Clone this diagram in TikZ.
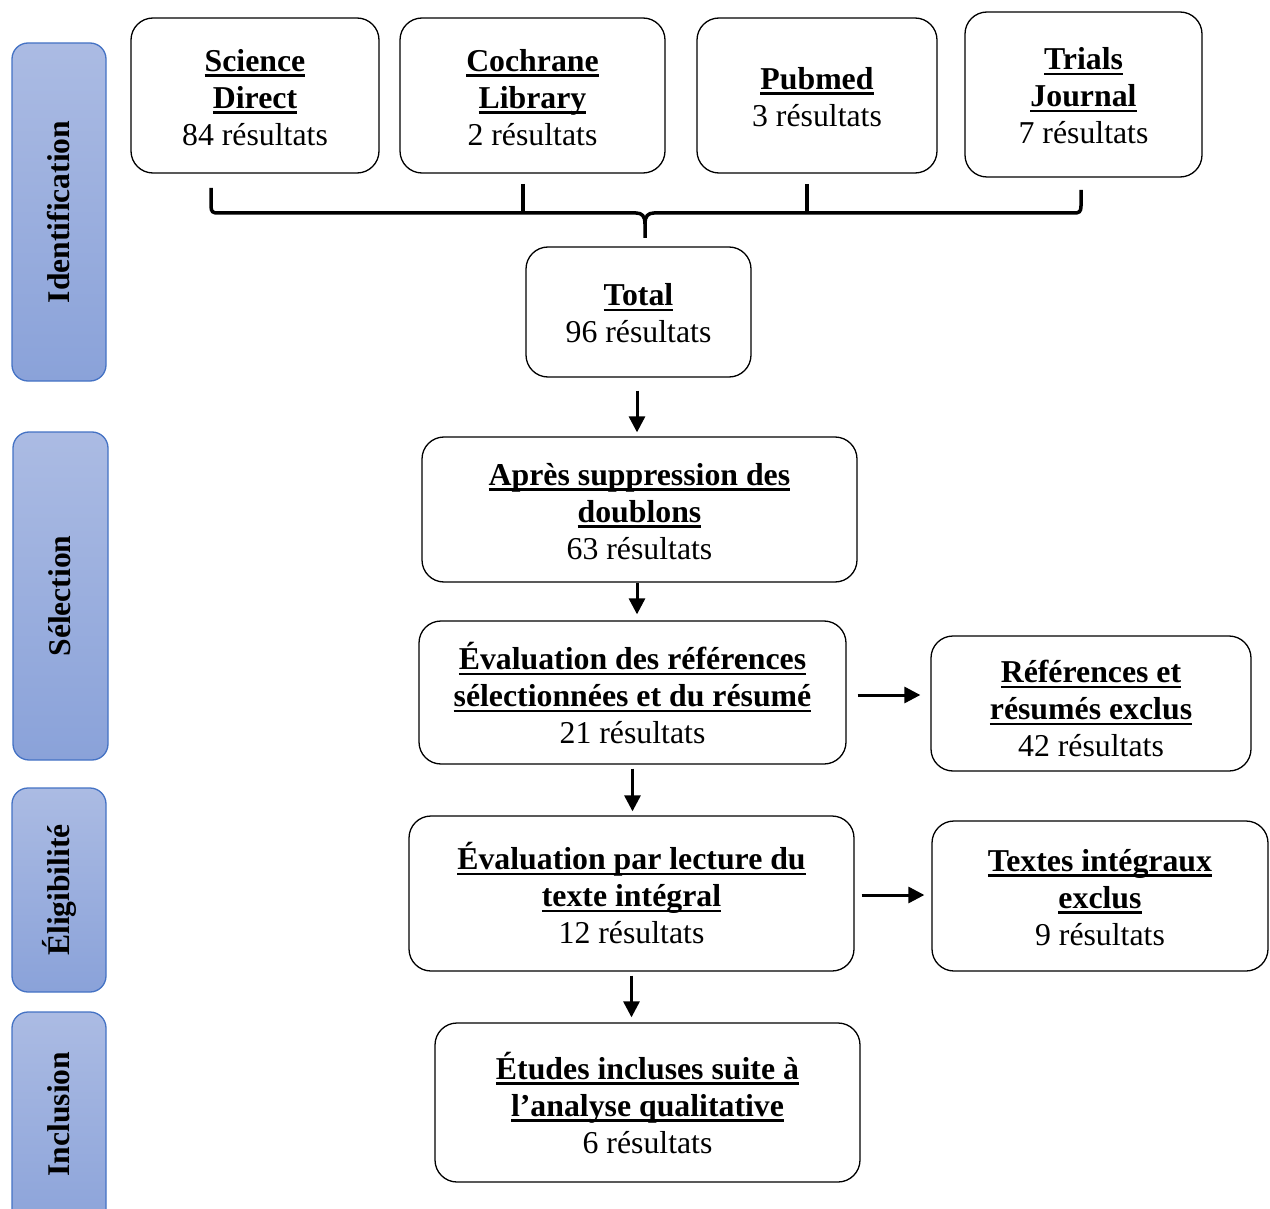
\documentclass[tikz,border=0pt]{standalone}
\usepackage{fontspec}
\setmainfont{Liberation Serif}
\usetikzlibrary{arrows.meta}
\newcommand\myul[1]{\setbox0=\hbox{#1}\rlap{\rule[-0.17em]{\wd0}{0.075em}}\box0}
\newcommand\tb[2]{\raisebox{0pt}[\dimexpr\height+#1\relax][\depth]{\begin{tabular}{@{}c@{}}#2\end{tabular}}}
\definecolor{bartop}{RGB}{171,187,227}
\definecolor{barbot}{RGB}{138,162,217}
\definecolor{barline}{RGB}{68,114,196}
\begin{document}
\begin{tikzpicture}[x=1pt,y=-1pt,
  box/.style={draw, line width=1.3pt, rounded corners=22pt, align=center, inner sep=0pt,
    font=\fontsize{31.8}{37}\selectfont},
  bar/.style={rounded corners=16pt, top color=bartop, bottom color=barbot, draw=barline, line width=1.3pt},
  bartext/.style={rotate=90, font=\fontsize{31.6}{37}\selectfont\bfseries, inner sep=0pt},
  arr/.style={line width=3pt, -{Triangle[length=16pt,width=16pt]}},
  brace/.style={line width=3.5pt}]
\useasboundingbox (0,0) rectangle (1270,1209);
% side bars
\path[bar] (12,43) rectangle (106,381);
\node[bartext] (lid) at (59,212) {Identification};
\path[bar] (13,432) rectangle (108,760);
\node[bartext] (lse) at (60,596) {Sélection};
\path[bar] (12,788) rectangle (106,992);
\node[bartext] (lel) at (59,890) {Éligibilité};
\path[bar] (12,1012) rectangle (106,1240);
\node[bartext] (lin) at (59,1114) {Inclusion};
% source boxes
\node[box, minimum width=248pt, minimum height=155pt] (sd) at (255,95.5)
  {\tb{11pt}{\myul{\bfseries Science}\\\myul{\bfseries Direct}\\84 résultats}};
\node[box, minimum width=265pt, minimum height=155pt] (cl) at (532.5,95.5)
  {\tb{11pt}{\myul{\bfseries Cochrane}\\\myul{\bfseries Library}\\2 résultats}};
\node[box, minimum width=240pt, minimum height=155pt] (pm) at (817,95.5)
  {\tb{10pt}{\myul{\bfseries Pubmed}\\3 résultats}};
\node[box, minimum width=237pt, minimum height=165pt] (tj) at (1083.5,94.5)
  {\tb{10pt}{\myul{\bfseries Trials}\\\myul{\bfseries Journal}\\7 résultats}};
% brace
\coordinate (bl) at (211,188);
\coordinate (br) at (1081,190);
\coordinate (bm) at (645,238);
\draw[brace] (bl) -- (211,206) .. controls (211,212) and (213,213) .. (218,213) -- (636,213)
  .. controls (642,213) and (645,216) .. (645,224) -- (bm);
\draw[brace] (645,224) .. controls (645,216) and (648,213) .. (654,213) -- (1074,213)
  .. controls (1079,213) and (1081,212) .. (1081,206) -- (br);
\draw[brace] (523,184) -- (523,213);
\draw[brace] (807,184) -- (807,213);
% flow
\node[box, minimum width=225pt, minimum height=130pt] (tot) at (638.5,312)
  {\tb{10pt}{\myul{\bfseries Total}\\96 résultats}};
\node[box, minimum width=435pt, minimum height=145pt] (apr) at (639.5,509.5)
  {\tb{11pt}{\myul{\bfseries Après suppression des}\\\myul{\bfseries doublons}\\63 résultats}};
\node[box, minimum width=427pt, minimum height=143pt] (evr) at (632.5,692.5)
  {\tb{12pt}{\myul{\bfseries Évaluation des références}\\\myul{\bfseries sélectionnées et du résumé}\\21 résultats}};
\node[box, minimum width=320pt, minimum height=135pt] (rex) at (1091,703.5)
  {\tb{18pt}{\myul{\bfseries Références et}\\\myul{\bfseries résumés exclus}\\42 résultats}};
\node[box, minimum width=445pt, minimum height=155pt] (evl) at (631.5,893.5)
  {\tb{10pt}{\myul{\bfseries Évaluation par lecture du}\\\myul{\bfseries texte intégral}\\12 résultats}};
\node[box, minimum width=336pt, minimum height=150pt] (tex) at (1100,896)
  {\tb{10pt}{\myul{\bfseries Textes intégraux}\\\myul{\bfseries exclus}\\9 résultats}};
\node[box, minimum width=425pt, minimum height=159pt] (etu) at (647.5,1102.5)
  {\tb{11pt}{\myul{\bfseries Études incluses suite à}\\\myul{\bfseries l’analyse qualitative}\\6 résultats}};
% arrows
\draw[arr, shorten <=13pt, shorten >=4pt] ([xshift=-1.5pt]tot.south) -- ([xshift=-1.5pt]tot.south |- apr.north);
\draw[arr, shorten <=0pt, shorten >=6pt] ([xshift=-2.5pt]apr.south) -- ([xshift=-2.5pt]apr.south |- evr.north);
\draw[arr, shorten <=4pt, shorten >=4pt] (evr.south) -- (evr.south |- evl.north);
\draw[arr, shorten <=4pt, shorten >=5pt] (evl.south) -- (evl.south |- etu.north);
\draw[arr, shorten <=11pt, shorten >=10pt] ([yshift=-2.5pt]evr.east) -- ([yshift=-2.5pt]evr.east -| rex.west);
\draw[arr, shorten <=7pt, shorten >=7pt] ([yshift=-1.5pt]evl.east) -- ([yshift=-1.5pt]evl.east -| tex.west);
\end{tikzpicture}
\end{document}
